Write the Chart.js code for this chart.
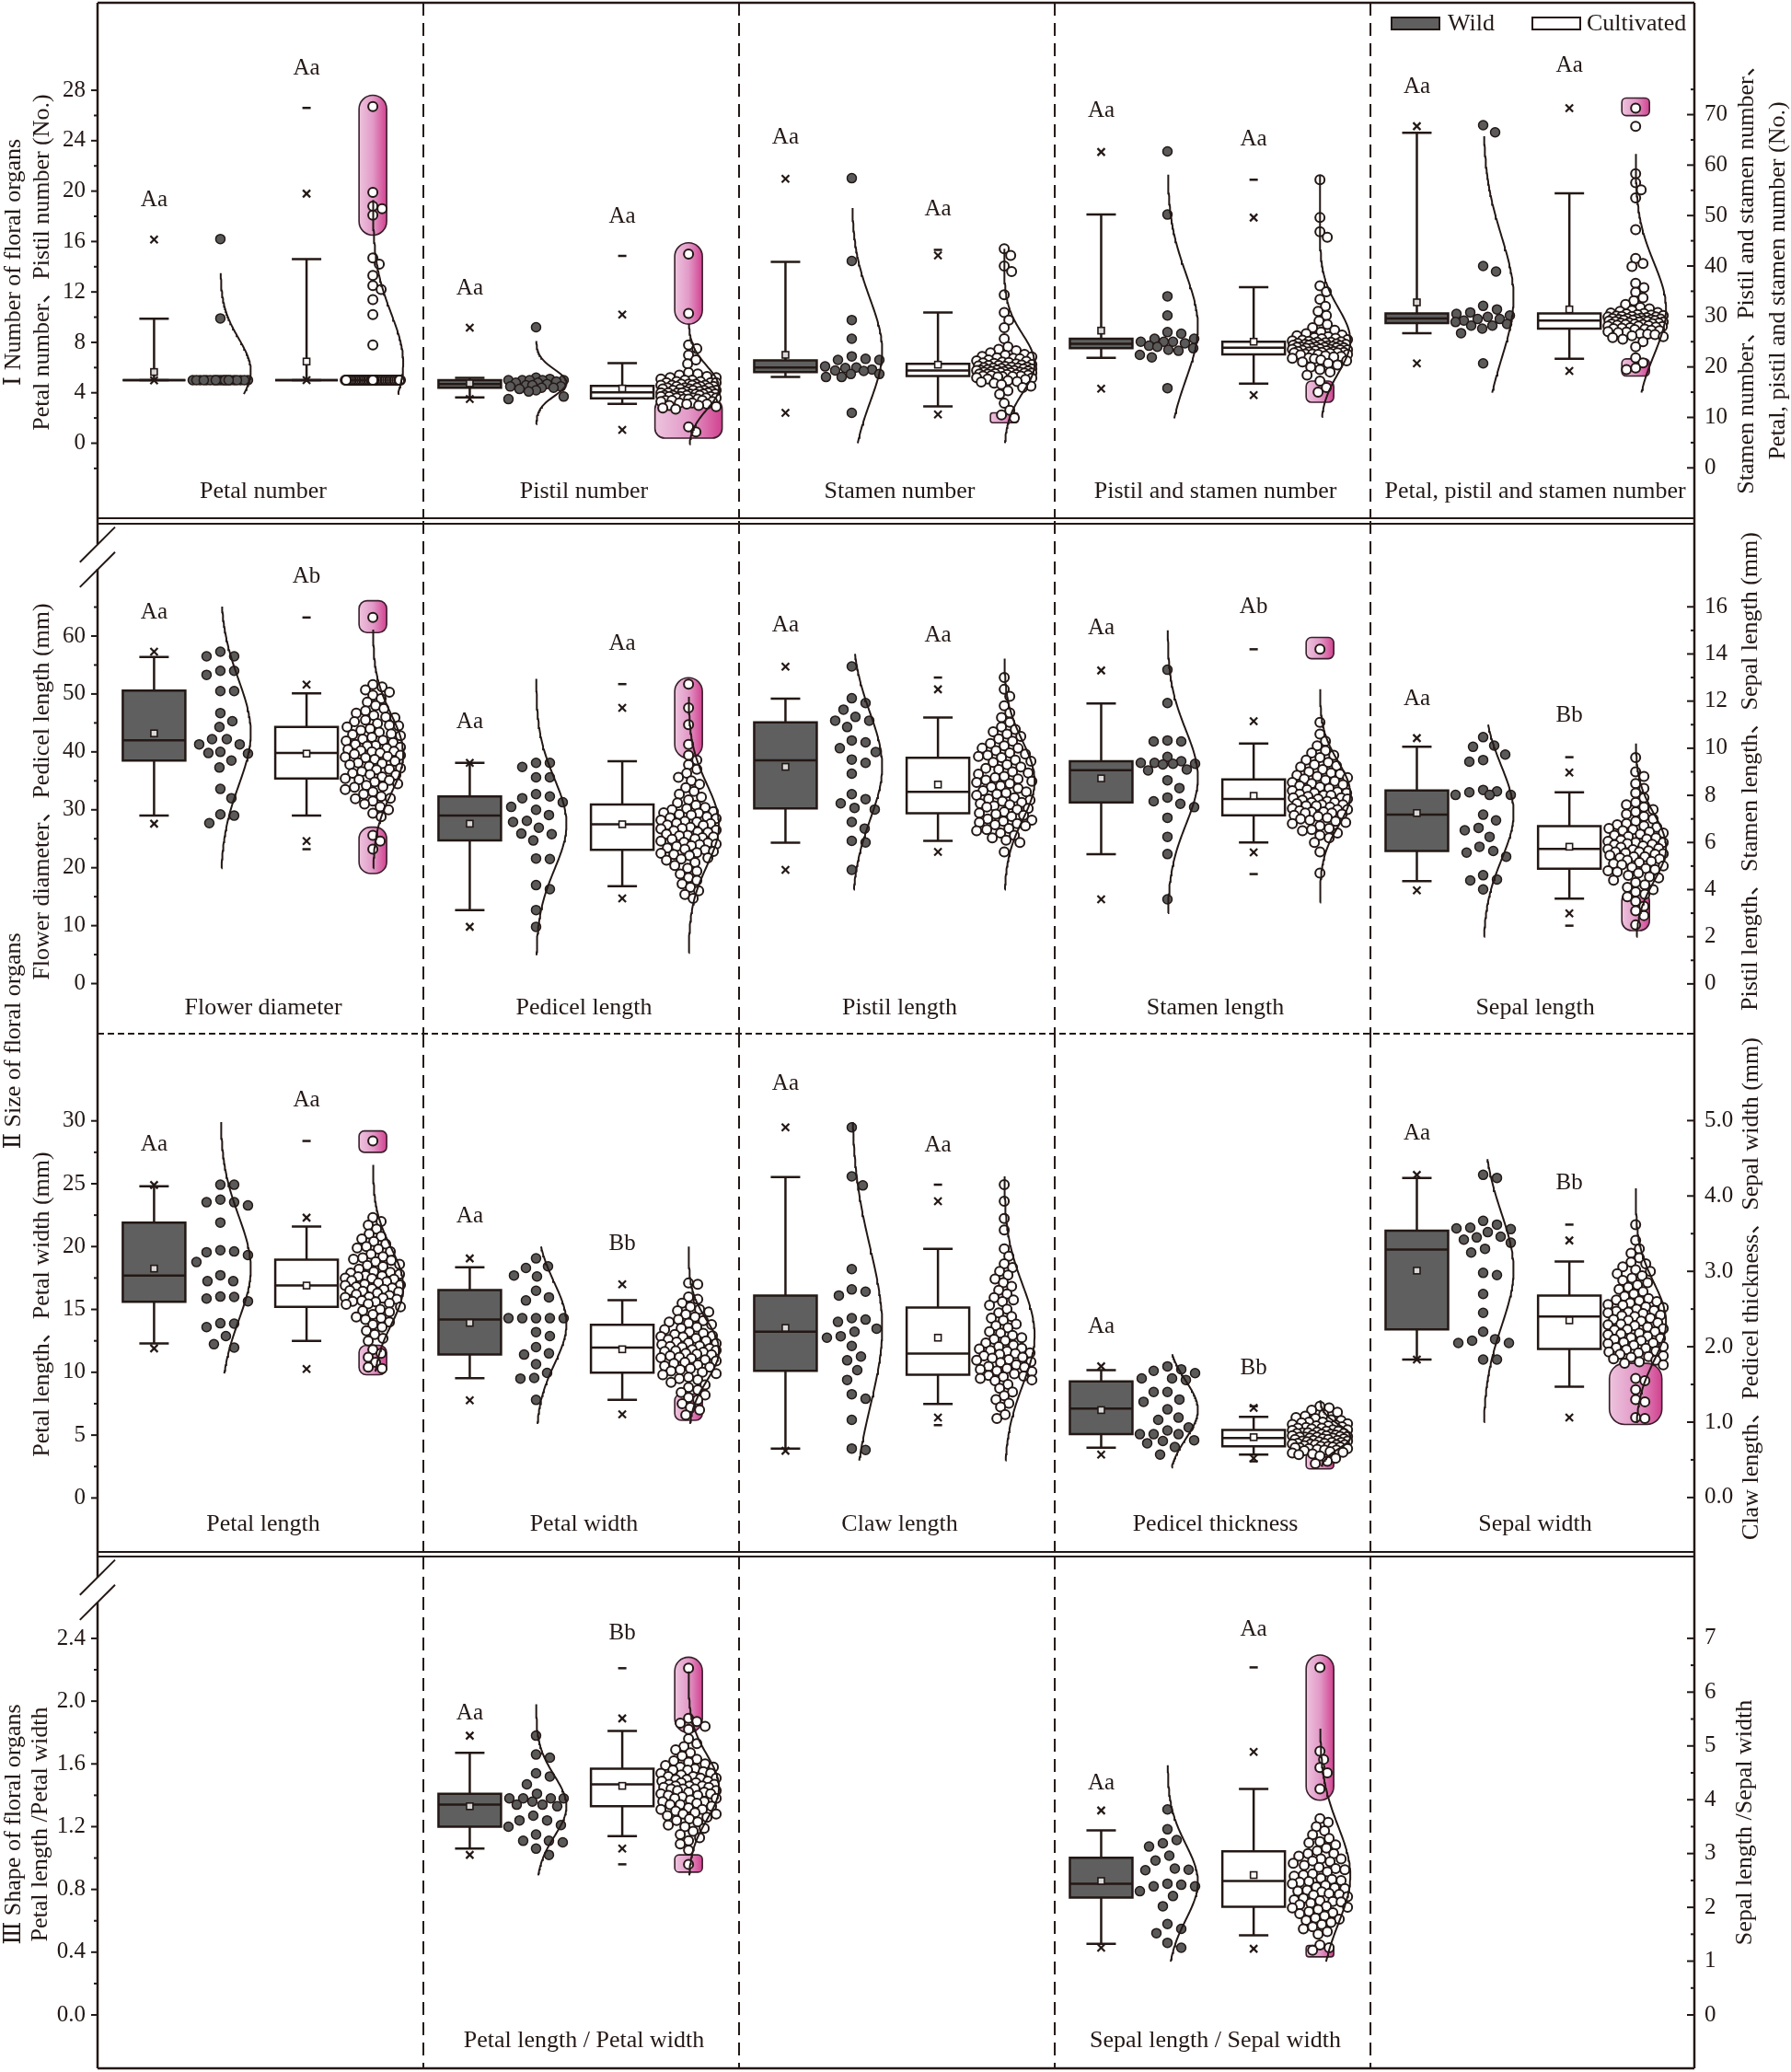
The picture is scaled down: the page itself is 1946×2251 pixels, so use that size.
<!DOCTYPE html>
<html>
<head>
<meta charset="utf-8">
<script src="https://cdn.jsdelivr.net/npm/chart.js@4.4.1/dist/chart.umd.min.js"></script>
<style>
html, body { margin: 0; padding: 0; background: #fff; overflow: hidden; }
#wrap { position: relative; width: 1946px; height: 2251px; }
#wrap canvas { position: absolute; left: 0; }
</style>
</head>
<body>
<div id="wrap">
  <canvas id="row0" width="1946" height="566" style="top:0px"></canvas>
  <canvas id="row1" width="1946" height="558" style="top:566px"></canvas>
  <canvas id="row2" width="1946" height="565" style="top:1124px"></canvas>
  <canvas id="row3" width="1946" height="562" style="top:1689px"></canvas>
</div>
<script>
// ---------------- data ----------------
const traits = ['Petal number', 'Pistil number', 'Stamen number', 'Pistil and stamen number', 'Petal, pistil and stamen number',
  'Flower diameter', 'Pedicel length', 'Pistil length', 'Stamen length', 'Sepal length',
  'Petal length', 'Petal width', 'Claw length', 'Pedicel thickness', 'Sepal width',
  'Petal length / Petal width', 'Sepal length / Sepal width'];
const traitRow = [0, 0, 0, 0, 0, 1, 1, 1, 1, 1, 2, 2, 2, 2, 2, 3, 3];
const traitCol = [0, 1, 2, 3, 4, 0, 1, 2, 3, 4, 0, 1, 2, 3, 4, 1, 3];
const traitAxis = ['L', 'L', 'R', 'R', 'R', 'L', 'L', 'R', 'R', 'R', 'L', 'L', 'R', 'R', 'R', 'L', 'R'];

// individual observations, wild
const petalNumberWild = [16.2, 9.9, 5, 5, 5, 5, 5, 5, 5, 5, 5, 5, 5, 5, 5, 5, 5, 5, 5, 5, 5, 5];
const pistilNumberWild = [9.2, 5.2, 5.1, 5.0, 5.0, 5.0, 5.0, 5.0, 4.9, 4.8, 4.8, 4.7, 4.6, 4.6, 4.5, 4.5, 4.4, 4.4, 4.3, 4.2, 4.1, 3.7, 3.5];
const stamenNumberWild = [57.4, 41.0, 29.3, 25.6, 22.1, 21.6, 21.4, 21.4, 20.1, 19.9, 19.8, 19.5, 19.3, 19.2, 18.6, 18.6, 18.0, 18.0, 10.9];
const pistilStamenWild = [62.7, 50.2, 34.0, 30.2, 26.9, 26.6, 25.6, 25.6, 25.0, 25.0, 25.0, 24.7, 24.2, 24.0, 23.7, 23.4, 23.2, 22.4, 21.9, 15.8];
const allOrgansWild = [67.9, 66.5, 40.0, 38.9, 32.1, 31.4, 30.8, 30.5, 30.2, 29.9, 29.5, 29.5, 29.2, 28.9, 28.5, 28.2, 28.2, 27.6, 26.7, 20.7];
const flowerDiamWild = [57.3, 56.5, 56.5, 54.0, 54.0, 53.3, 50.5, 50.5, 46.7, 45.3, 44.3, 42.2, 42.2, 41.3, 41.3, 40.0, 39.8, 39.7, 38.5, 37.3, 33.6, 32.0, 29.2, 29.0, 27.7];
const pedicelLenWild = [38.1, 38.1, 37.4, 35.6, 35.6, 32.7, 32.3, 32.0, 31.3, 30.5, 30.0, 29.1, 28.1, 27.9, 26.9, 25.9, 25.8, 24.7, 21.5, 21.6, 17.0, 16.3, 12.7, 9.8];
const pistilLenWild = [13.47, 12.12, 11.92, 11.64, 11.33, 11.17, 11.17, 10.9, 10.33, 10.25, 10.0, 9.84, 9.52, 9.38, 8.92, 8.05, 7.84, 7.66, 7.47, 7.4, 6.87, 6.59, 6.07, 6.0, 4.84];
const stamenLenWild = [13.33, 11.92, 10.33, 10.29, 10.29, 9.63, 9.45, 9.38, 9.38, 9.34, 9.34, 9.31, 9.1, 9.06, 8.64, 8.31, 7.91, 7.75, 7.64, 7.5, 7.05, 6.24, 5.51, 3.59];
const sepalLenWild = [10.47, 10.11, 10.06, 9.73, 9.5, 9.43, 8.23, 8.17, 8.13, 8.02, 8.02, 8.02, 7.18, 6.94, 6.62, 6.52, 6.24, 5.82, 5.64, 5.57, 5.4, 4.61, 4.43, 4.39, 4.01];
const petalLenWild = [24.92, 24.92, 23.74, 23.53, 23.53, 23.27, 21.91, 19.71, 19.61, 19.55, 19.32, 18.77, 17.72, 17.25, 17.25, 16.02, 15.99, 15.86, 15.65, 13.9, 13.87, 13.59, 12.88, 12.23, 11.96];
const petalWidWild = [19.06, 18.43, 18.3, 17.7, 17.62, 16.49, 15.96, 15.71, 14.3, 14.3, 14.3, 14.3, 14.3, 13.2, 12.88, 12.0, 11.5, 11.41, 10.65, 9.95, 9.55, 9.5, 7.8];
const clawLenWild = [4.91, 4.26, 4.14, 3.03, 2.76, 2.73, 2.68, 2.38, 2.36, 2.33, 2.24, 2.2, 2.14, 2.12, 2.01, 1.87, 1.82, 1.69, 1.56, 1.37, 1.31, 1.03, 0.65, 0.63];
const pedicelThWild = [1.74, 1.7, 1.68, 1.65, 1.58, 1.58, 1.56, 1.4, 1.4, 1.3, 1.27, 1.17, 1.06, 1.03, 0.93, 0.89, 0.84, 0.84, 0.84, 0.76, 0.75, 0.72, 0.67, 0.57];
const sepalWidWild = [4.28, 4.24, 3.67, 3.62, 3.58, 3.57, 3.56, 3.52, 3.46, 3.45, 3.42, 3.38, 3.3, 3.25, 2.98, 2.95, 2.7, 2.45, 2.2, 2.1, 2.08, 2.05, 2.05, 1.83, 1.83];
const petalRatioWild = [1.78, 1.66, 1.64, 1.54, 1.52, 1.47, 1.41, 1.38, 1.38, 1.38, 1.38, 1.36, 1.34, 1.34, 1.33, 1.27, 1.24, 1.24, 1.21, 1.2, 1.15, 1.11, 1.11, 1.1, 1.06, 1.02];
const sepalRatioWild = [3.82, 3.45, 3.25, 3.19, 3.13, 2.96, 2.87, 2.72, 2.7, 2.69, 2.44, 2.42, 2.39, 2.39, 2.3, 2.21, 2.02, 1.69, 1.6, 1.52, 1.34, 1.25];

// individual observations, cultivated
const petalNumberCult = [26.7, 19.9, 18.8, 18.6, 18.1, 14.7, 14.2, 13.3, 12.5, 12.2, 11.4, 10.2, 7.8,
  5, 5, 5, 5, 5, 5, 5, 5, 5, 5, 5, 5, 5, 5, 5, 5, 5,
  5, 5, 5, 5, 5, 5, 5, 5, 5, 5, 5, 5, 5, 5, 5, 5, 5,
  5, 5, 5, 5, 5, 5, 5, 5, 5, 5, 5, 5, 5, 5, 5, 5, 5,
  5, 5, 5, 5, 5, 5, 5, 5, 5, 5, 5, 5, 5, 5, 5, 5, 5,
  5, 5, 5, 5, 5, 5, 5, 5, 5, 5, 5, 5, 5, 5, 5, 5, 5];
const pistilNumberCult = [15.0, 10.3, 7.8, 7.5, 7.0, 6.6, 6.3, 5.6, 5.5, 5.4, 5.3, 5.2, 5.2, 5.1, 5.0, 5.0, 4.9, 4.9, 4.8, 4.8, 4.8, 4.7, 4.7, 4.7, 4.6, 4.6, 4.6, 4.6, 4.5, 4.5, 4.5, 4.4, 4.4, 4.4, 4.4, 4.3, 4.3, 4.3, 4.2, 4.2, 4.2, 4.2, 4.1, 4.1, 4.1, 4.0, 4.0, 4.0, 4.0, 4.0, 3.9, 3.9, 3.9, 3.9, 3.8, 3.8, 3.8, 3.8, 3.7, 3.7, 3.7, 3.7, 3.6, 3.6, 3.6, 3.6, 3.5, 3.5, 3.5, 3.4, 3.4, 3.4, 3.3, 3.3, 3.2, 3.2, 3.1, 3.1, 3.0, 3.0, 2.9, 2.8, 2.7, 1.3, 0.9];
const stamenNumberCult = [43.4, 42.1, 40.0, 38.9, 34.3, 30.8, 29.3, 27.8, 25.6, 24.0, 23.5, 23.2, 22.8, 22.5, 22.3, 22.1, 22.0, 21.8, 21.7, 21.6, 21.4, 21.2, 21.1, 21.0, 20.9, 20.8, 20.7, 20.6, 20.5, 20.4, 20.3, 20.3, 20.2, 20.1, 20.0, 20.0, 19.9, 19.8, 19.8, 19.7, 19.6, 19.6, 19.5, 19.5, 19.4, 19.4, 19.3, 19.3, 19.2, 19.1, 19.1, 19.0, 19.0, 18.9, 18.9, 18.8, 18.8, 18.7, 18.6, 18.6, 18.5, 18.5, 18.4, 18.3, 18.2, 18.2, 18.1, 18.1, 18.0, 17.9, 17.8, 17.6, 17.5, 17.3, 17.1, 17.0, 16.8, 16.5, 16.2, 15.9, 15.3, 14.6, 12.8, 11.4, 10.5, 9.9];
const pistilStamenCult = [57.1, 49.6, 46.8, 45.7, 36.1, 34.9, 33.4, 32.0, 31.0, 30.2, 29.1, 28.4, 27.8, 27.3, 26.9, 26.6, 26.3, 26.2, 26.0, 25.8, 25.7, 25.6, 25.4, 25.3, 25.2, 25.1, 25.0, 24.9, 24.9, 24.8, 24.7, 24.6, 24.6, 24.5, 24.5, 24.4, 24.3, 24.3, 24.2, 24.2, 24.1, 24.0, 24.0, 23.9, 23.9, 23.8, 23.8, 23.7, 23.7, 23.6, 23.5, 23.5, 23.4, 23.4, 23.3, 23.2, 23.2, 23.1, 23.1, 23.0, 22.9, 22.9, 22.8, 22.8, 22.7, 22.6, 22.6, 22.5, 22.5, 22.4, 22.2, 22.1, 22.0, 21.8, 21.7, 21.6, 21.4, 21.2, 21.0, 20.7, 20.4, 20.0, 19.5, 19.0, 18.4, 17.2, 15.9, 15.0];
const allOrgansCult = [71.3, 67.7, 58.3, 56.5, 55.1, 53.5, 47.2, 41.5, 40.5, 39.9, 36.6, 35.7, 34.8, 33.7, 33.1, 32.4, 31.8, 31.5, 31.2, 31.0, 30.8, 30.7, 30.6, 30.5, 30.4, 30.3, 30.2, 30.1, 30.0, 30.0, 29.9, 29.9, 29.8, 29.7, 29.6, 29.6, 29.5, 29.5, 29.4, 29.4, 29.3, 29.3, 29.2, 29.2, 29.1, 29.0, 29.0, 28.9, 28.9, 28.8, 28.7, 28.7, 28.6, 28.5, 28.5, 28.4, 28.4, 28.3, 28.2, 28.1, 28.1, 28.0, 27.9, 27.8, 27.7, 27.6, 27.5, 27.4, 27.3, 27.2, 27.0, 26.9, 26.8, 26.6, 26.5, 26.4, 26.2, 26.0, 25.8, 25.5, 25.0, 24.0, 21.8, 20.8, 19.8, 19.5];
const flowerDiamCult = [63.2, 51.6, 51.2, 50.7, 50.3, 49.8, 49.2, 48.6, 48.0, 47.5, 47.1, 46.7, 46.3, 46.0, 45.9, 45.5, 45.2, 44.9, 44.6, 44.5, 44.3, 44.0, 43.7, 43.4, 43.1, 43.0, 42.8, 42.5, 42.2, 42.0, 41.9, 41.6, 41.3, 41.1, 41.0, 40.8, 40.6, 40.4, 40.2, 40.1, 40.0, 39.8, 39.6, 39.4, 39.2, 39.1, 39.0, 38.7, 38.4, 38.1, 38.0, 37.8, 37.5, 37.2, 37.0, 36.9, 36.6, 36.3, 36.1, 36.0, 35.7, 35.4, 35.2, 35.1, 34.8, 34.5, 34.2, 34.0, 33.9, 33.5, 33.1, 32.7, 32.3, 32.0, 31.9, 31.5, 31.0, 30.5, 30.0, 29.4, 28.8, 25.6, 24.6, 23.2];
const pedicelLenCult = [51.7, 47.6, 44.7, 41.3, 39.4, 38.6, 37.8, 37.0, 36.3, 35.6, 35.0, 34.4, 33.8, 33.2, 32.7, 32.2, 31.7, 31.2, 30.8, 30.4, 30.2, 30.0, 29.7, 29.5, 29.4, 29.2, 29.1, 28.8, 28.6, 28.5, 28.2, 28.0, 27.9, 27.7, 27.6, 27.4, 27.3, 27.0, 26.8, 26.7, 26.5, 26.4, 26.2, 26.1, 25.8, 25.6, 25.5, 25.3, 25.2, 25.0, 24.9, 24.6, 24.4, 24.3, 24.1, 24.0, 23.8, 23.7, 23.4, 23.2, 23.1, 22.8, 22.6, 22.5, 22.3, 22.1, 21.7, 21.5, 21.3, 20.9, 20.4, 19.9, 19.4, 18.9, 18.3, 17.8, 17.2, 16.6, 16.0, 15.4, 14.7];
const pistilLenCult = [13.0, 12.5, 12.2, 11.8, 11.5, 11.3, 11.1, 10.9, 10.8, 10.7, 10.6, 10.5, 10.4, 10.3, 10.2, 10.1, 10.0, 10.0, 9.9, 9.8, 9.75, 9.7, 9.65, 9.6, 9.5, 9.45, 9.4, 9.3, 9.2, 9.15, 9.1, 9.0, 8.95, 8.9, 8.8, 8.75, 8.7, 8.65, 8.6, 8.55, 8.5, 8.4, 8.35, 8.3, 8.2, 8.15, 8.1, 8.05, 8.0, 7.9, 7.85, 7.8, 7.75, 7.7, 7.65, 7.6, 7.55, 7.5, 7.45, 7.4, 7.3, 7.25, 7.2, 7.15, 7.1, 7.0, 6.95, 6.9, 6.85, 6.8, 6.75, 6.7, 6.6, 6.55, 6.5, 6.4, 6.3, 6.2, 6.1, 6.0, 5.6];
const stamenLenCult = [14.2, 11.1, 10.6, 10.3, 10.1, 9.9, 9.8, 9.7, 9.6, 9.5, 9.4, 9.3, 9.25, 9.2, 9.1, 9.0, 8.95, 8.9, 8.85, 8.8, 8.75, 8.7, 8.65, 8.6, 8.55, 8.5, 8.45, 8.4, 8.35, 8.3, 8.25, 8.2, 8.15, 8.1, 8.1, 8.05, 8.0, 8.0, 7.95, 7.9, 7.9, 7.85, 7.85, 7.8, 7.75, 7.7, 7.7, 7.65, 7.6, 7.6, 7.55, 7.55, 7.5, 7.45, 7.4, 7.4, 7.35, 7.3, 7.3, 7.25, 7.25, 7.2, 7.15, 7.1, 7.05, 7.0, 6.95, 6.9, 6.85, 6.8, 6.7, 6.6, 6.55, 6.5, 6.4, 6.3, 6.2, 6.0, 5.6, 4.7];
const sepalLenCult = [9.6, 9.0, 8.8, 8.5, 8.3, 8.1, 7.9, 7.7, 7.6, 7.5, 7.4, 7.3, 7.2, 7.1, 7.0, 6.9, 6.8, 6.75, 6.7, 6.65, 6.6, 6.55, 6.5, 6.45, 6.4, 6.35, 6.3, 6.25, 6.2, 6.15, 6.1, 6.05, 6.0, 6.0, 5.95, 5.92, 5.9, 5.85, 5.8, 5.75, 5.72, 5.7, 5.65, 5.6, 5.6, 5.55, 5.52, 5.5, 5.45, 5.4, 5.4, 5.35, 5.3, 5.25, 5.2, 5.15, 5.1, 5.05, 5.0, 4.95, 4.9, 4.85, 4.8, 4.75, 4.7, 4.6, 4.55, 4.5, 4.4, 4.3, 4.2, 4.1, 4.0, 3.9, 3.8, 3.7, 3.5, 3.3, 3.1, 2.9, 2.5];
const petalLenCult = [28.4, 22.3, 22.0, 21.7, 21.4, 21.0, 20.8, 20.6, 20.4, 20.2, 20.0, 19.9, 19.8, 19.6, 19.4, 19.2, 19.1, 19.0, 18.9, 18.8, 18.6, 18.5, 18.4, 18.2, 18.0, 17.95, 17.9, 17.8, 17.7, 17.65, 17.6, 17.5, 17.45, 17.4, 17.3, 17.2, 17.1, 17.0, 16.95, 16.9, 16.8, 16.7, 16.65, 16.6, 16.5, 16.45, 16.4, 16.3, 16.2, 16.1, 16.0, 15.95, 15.9, 15.8, 15.7, 15.65, 15.6, 15.5, 15.45, 15.4, 15.2, 15.0, 14.9, 14.8, 14.6, 14.4, 14.3, 14.2, 14.0, 13.8, 13.6, 13.3, 13.0, 12.7, 12.5, 11.8, 11.5, 11.2, 10.8, 10.4, 10.3];
const petalWidCult = [17.1, 17.0, 16.0, 15.8, 15.5, 15.2, 15.0, 14.9, 14.8, 14.6, 14.4, 14.2, 14.1, 14.0, 13.9, 13.8, 13.6, 13.5, 13.4, 13.2, 13.1, 13.0, 12.9, 12.85, 12.8, 12.7, 12.6, 12.5, 12.4, 12.35, 12.3, 12.2, 12.1, 12.05, 12.0, 11.9, 11.8, 11.75, 11.7, 11.65, 11.6, 11.5, 11.45, 11.4, 11.3, 11.2, 11.15, 11.1, 11.0, 10.9, 10.8, 10.7, 10.6, 10.5, 10.4, 10.3, 10.2, 10.1, 10.0, 9.9, 9.8, 9.6, 9.5, 9.4, 9.2, 9.0, 8.8, 8.6, 8.4, 8.2, 8.0, 7.8, 7.5, 7.2, 7.0, 6.6];
const clawLenCult = [4.15, 3.93, 3.7, 3.55, 3.3, 3.2, 3.1, 3.05, 3.0, 2.95, 2.9, 2.85, 2.8, 2.75, 2.7, 2.65, 2.62, 2.6, 2.55, 2.5, 2.45, 2.4, 2.38, 2.35, 2.3, 2.28, 2.25, 2.2, 2.18, 2.15, 2.12, 2.1, 2.08, 2.05, 2.02, 2.0, 1.98, 1.97, 1.95, 1.94, 1.92, 1.91, 1.9, 1.88, 1.86, 1.85, 1.83, 1.82, 1.8, 1.79, 1.76, 1.74, 1.73, 1.71, 1.7, 1.68, 1.67, 1.64, 1.62, 1.61, 1.6, 1.58, 1.56, 1.55, 1.5, 1.45, 1.4, 1.35, 1.3, 1.25, 1.2, 1.1, 1.05];
const pedicelThCult = [1.21, 1.19, 1.16, 1.13, 1.1, 1.08, 1.06, 1.05, 1.03, 1.02, 1.0, 1.0, 0.99, 0.98, 0.97, 0.96, 0.95, 0.95, 0.94, 0.93, 0.92, 0.92, 0.91, 0.9, 0.9, 0.89, 0.88, 0.88, 0.87, 0.86, 0.86, 0.85, 0.85, 0.84, 0.84, 0.83, 0.83, 0.82, 0.82, 0.81, 0.81, 0.8, 0.8, 0.8, 0.79, 0.79, 0.78, 0.78, 0.77, 0.77, 0.76, 0.76, 0.75, 0.75, 0.74, 0.74, 0.73, 0.73, 0.72, 0.72, 0.71, 0.71, 0.7, 0.7, 0.7, 0.69, 0.68, 0.68, 0.67, 0.67, 0.66, 0.66, 0.65, 0.65, 0.64, 0.63, 0.63, 0.62, 0.61, 0.6, 0.59, 0.58, 0.57, 0.55, 0.52, 0.48, 0.45];
const sepalWidCult = [3.62, 3.41, 3.3, 3.24, 3.18, 3.12, 3.1, 3.06, 3.02, 3.0, 2.97, 2.94, 2.91, 2.88, 2.85, 2.82, 2.79, 2.76, 2.73, 2.7, 2.67, 2.64, 2.62, 2.61, 2.6, 2.58, 2.56, 2.55, 2.53, 2.52, 2.5, 2.48, 2.47, 2.46, 2.45, 2.44, 2.42, 2.41, 2.4, 2.38, 2.36, 2.35, 2.34, 2.32, 2.3, 2.29, 2.28, 2.26, 2.24, 2.23, 2.22, 2.2, 2.18, 2.17, 2.16, 2.14, 2.12, 2.11, 2.1, 2.08, 2.06, 2.05, 2.04, 2.02, 2.0, 1.99, 1.98, 1.96, 1.94, 1.93, 1.92, 1.9, 1.88, 1.87, 1.86, 1.84, 1.82, 1.8, 1.78, 1.76, 1.58, 1.55, 1.43, 1.3, 1.27, 1.06, 1.05];
const petalRatioCult = [2.21, 1.89, 1.87, 1.86, 1.84, 1.82, 1.76, 1.73, 1.71, 1.69, 1.67, 1.65, 1.63, 1.62, 1.61, 1.6, 1.59, 1.58, 1.58, 1.57, 1.56, 1.56, 1.55, 1.54, 1.54, 1.53, 1.52, 1.52, 1.51, 1.51, 1.5, 1.5, 1.49, 1.49, 1.48, 1.48, 1.47, 1.47, 1.46, 1.46, 1.46, 1.45, 1.45, 1.44, 1.44, 1.44, 1.43, 1.43, 1.42, 1.42, 1.41, 1.41, 1.4, 1.4, 1.39, 1.38, 1.38, 1.37, 1.36, 1.36, 1.35, 1.34, 1.34, 1.33, 1.32, 1.31, 1.31, 1.3, 1.29, 1.28, 1.28, 1.27, 1.26, 1.25, 1.24, 1.23, 1.21, 1.2, 1.19, 1.17, 1.15, 1.13, 1.11, 1.09, 1.05, 0.96];
const sepalRatioCult = [6.46, 4.9, 4.75, 4.6, 4.5, 4.2, 3.65, 3.58, 3.5, 3.42, 3.35, 3.28, 3.22, 3.2, 3.16, 3.1, 3.05, 3.0, 3.0, 2.95, 2.9, 2.9, 2.86, 2.85, 2.82, 2.78, 2.74, 2.72, 2.7, 2.66, 2.62, 2.6, 2.58, 2.54, 2.52, 2.5, 2.48, 2.47, 2.44, 2.41, 2.38, 2.36, 2.35, 2.32, 2.3, 2.29, 2.26, 2.24, 2.23, 2.2, 2.17, 2.14, 2.12, 2.11, 2.1, 2.08, 2.05, 2.02, 2.0, 1.99, 1.96, 1.92, 1.9, 1.88, 1.84, 1.8, 1.78, 1.76, 1.72, 1.68, 1.64, 1.6, 1.55, 1.5, 1.3, 1.25, 1.2];

const wildDots = [petalNumberWild, pistilNumberWild, stamenNumberWild, pistilStamenWild, allOrgansWild,
  flowerDiamWild, pedicelLenWild, pistilLenWild, stamenLenWild, sepalLenWild,
  petalLenWild, petalWidWild, clawLenWild, pedicelThWild, sepalWidWild, petalRatioWild, sepalRatioWild];
const cultDots = [petalNumberCult, pistilNumberCult, stamenNumberCult, pistilStamenCult, allOrgansCult,
  flowerDiamCult, pedicelLenCult, pistilLenCult, stamenLenCult, sepalLenCult,
  petalLenCult, petalWidCult, clawLenCult, pedicelThCult, sepalWidCult, petalRatioCult, sepalRatioCult];

// box statistics [lower whisker, Q1, median, Q3, upper whisker]
const wildBox = [[5, 5, 5, 5, 9.88], [3.64, 4.4, 4.7, 5.0, 5.19], [18.0, 19.0, 19.9, 21.3, 40.8], [21.8, 23.7, 24.6, 25.6, 50.2], [26.7, 28.7, 29.6, 30.6, 66.4],
  [29.0, 38.5, 42.0, 50.6, 56.4], [12.7, 24.7, 29.0, 32.3, 38.1], [5.99, 7.45, 9.49, 11.1, 12.1], [5.5, 7.7, 9.07, 9.45, 11.9], [4.36, 5.64, 7.18, 8.21, 10.06],
  [12.3, 15.6, 17.7, 21.9, 24.8], [9.53, 11.41, 14.19, 16.54, 18.35], [0.65, 1.68, 2.2, 2.68, 4.25], [0.66, 0.84, 1.18, 1.54, 1.69], [1.83, 2.23, 3.29, 3.54, 4.24],
  [1.06, 1.2, 1.34, 1.41, 1.67], [1.32, 2.18, 2.44, 2.92, 3.43]];
const cultBox = [[5, 5, 5, 5, 14.6], [3.12, 3.56, 4.03, 4.54, 6.35], [12.2, 18.2, 19.3, 20.6, 30.8], [16.7, 22.5, 23.8, 25.0, 35.8], [21.6, 27.6, 29.2, 30.6, 54.4],
  [29.0, 35.4, 39.8, 44.3, 50.1], [16.8, 23.1, 27.5, 30.9, 38.4], [6.07, 7.24, 8.15, 9.59, 11.3], [6.0, 7.15, 7.85, 8.68, 10.2], [3.62, 4.89, 5.73, 6.69, 8.13],
  [12.5, 15.2, 16.9, 18.95, 21.6], [7.8, 9.97, 11.96, 13.77, 15.73], [1.24, 1.63, 1.91, 2.52, 3.3], [0.57, 0.68, 0.79, 0.895, 1.07], [1.47, 1.97, 2.4, 2.68, 3.13],
  [1.14, 1.33, 1.47, 1.57, 1.81], [1.48, 2.01, 2.49, 3.04, 4.2]];
const wildMean = [5.65, 4.75, 22.4, 27.2, 32.8, 43.2, 27.6, 9.21, 8.72, 7.25, 18.25, 13.93, 2.25, 1.16, 3.01, 1.33, 2.49];
const cultMean = [6.48, 4.34, 20.45, 25.0, 31.4, 39.7, 27.5, 8.46, 7.98, 5.82, 16.9, 11.83, 2.12, 0.8, 2.35, 1.46, 2.6];
// 1% / 99% marks (x) and min / max marks (-)
const wildCross = [[16.15, 4.98], [9.16, 3.5], [57.3, 10.9], [62.6, 15.7], [67.7, 20.7], [57.3, 27.6], [38.1, 9.8], [13.46, 4.84], [13.3, 3.59], [10.43, 3.97],
  [24.9, 11.9], [19.06, 7.77], [4.91, 0.62], [1.74, 0.57], [4.28, 1.83], [1.78, 1.02], [3.8, 1.25]];
const cultCross = [[19.8, 5.0], [10.2, 1.06], [42.1, 10.6], [49.6, 14.4], [71.3, 19.2], [51.6, 24.6], [47.6, 14.7], [12.5, 5.6], [11.15, 5.58], [8.97, 2.99],
  [22.3, 10.26], [17.0, 6.65], [3.93, 1.06], [1.19, 0.52], [3.41, 1.06], [1.89, 1.06], [4.89, 1.23]];
const wildDash = [[], [], [], [], [], [], [], [], [], [], [], [], [], [], [], [], []];
const cultDash = [[26.6], [14.86], [43.2], [57.1], [], [63.2, 23.2], [51.7], [13.0], [14.2, 4.66], [9.62, 2.47],
  [28.4], [], [4.15, 0.96], [1.21, 0.48], [3.62], [2.21, 0.96], [6.46]];
// cultivated values outside the wild range [low, high, band kind]
const cultPink = [[[16.5, 27.6, 'n']], [[9.45, 15.9, 'n'], [0.4, 3.5, 'w']], [[8.95, 10.9, 'n']], [[13.0, 17.2, 'n']], [[69.8, 73.3, 'n'], [18.2, 21.6, 'n']],
  [[60.6, 66.1, 'n'], [19.0, 27.0, 'n']], [[38.9, 52.8, 'n']], [], [[13.8, 14.7, 'n']], [[2.26, 3.94, 'n']],
  [[27.5, 29.2, 'n'], [9.8, 12.15, 'n']], [[6.18, 8.27, 'n']], [], [[0.38, 0.58, 'n']], [[0.97, 1.78, 'm']],
  [[1.8, 2.28, 'n'], [0.91, 1.02, 'n']], [[3.99, 6.69, 'n'], [1.08, 1.29, 'n']]];
// extent of the distribution curves
const wildCurve = [[3.9, 13.5], [1.5, 8.1], [4.9, 51.5], [9.8, 58.1], [14.9, 65.7], [19.9, 65.1], [4.9, 52.6], [4.0, 14.0], [3.0, 15.0], [2.0, 11.0],
  [9.9, 29.9], [5.9, 20.0], [0.49, 4.98], [0.4, 1.9], [1.0, 4.49], [0.89, 1.98], [0.99, 4.64]];
const cultCurve = [[3.9, 19.3], [-0.1, 9.45], [4.9, 43.4], [10.1, 58.0], [14.9, 62.2], [19.9, 61.1], [5.3, 49.5], [4.0, 13.8], [3.45, 12.5], [2.0, 10.2],
  [10.05, 26.5], [5.9, 20.0], [0.49, 4.26], [0.41, 1.29], [1.0, 4.1], [0.89, 2.19], [0.99, 5.32]];
// significance letters and the value they sit at
const wildLetter = ['Aa', 'Aa', 'Aa', 'Aa', 'Aa', 'Aa', 'Aa', 'Aa', 'Aa', 'Aa', 'Aa', 'Aa', 'Aa', 'Aa', 'Aa', 'Aa', 'Aa'];
const cultLetter = ['Aa', 'Aa', 'Aa', 'Aa', 'Aa', 'Ab', 'Aa', 'Aa', 'Ab', 'Bb', 'Aa', 'Bb', 'Aa', 'Bb', 'Bb', 'Bb', 'Aa'];
const wildLetterY = [19.25, 12.3, 65.4, 70.8, 75.4, 64.1, 45.1, 15.2, 15.1, 12.1, 28.1, 22.4, 5.49, 2.26, 4.83, 1.92, 4.31];
const cultLetterY = [29.75, 17.96, 51.2, 65.1, 79.6, 70.2, 58.6, 14.8, 16.0, 11.4, 31.6, 20.2, 4.67, 1.72, 4.17, 2.43, 7.16];

// axis tick labels per row
const leftTicks = [[0, 4, 8, 12, 16, 20, 24, 28], [0, 10, 20, 30, 40, 50, 60], [0, 5, 10, 15, 20, 25, 30], [0, 0.4, 0.8, 1.2, 1.6, 2.0, 2.4]];
const rightTicks = [[0, 10, 20, 30, 40, 50, 60, 70], [0, 2, 4, 6, 8, 10, 12, 14, 16], [0, 1, 2, 3, 4, 5], [0, 1, 2, 3, 4, 5, 6, 7]];
const leftDec = [0, 0, 0, 1];
const rightDec = [0, 0, 1, 0];

// ---------------- layout / style ----------------
const INK = '#231815';
const FONT = '"Liberation Serif", "DejaVu Serif", "Noto Sans CJK SC", serif';
const WILD_FILL = '#5f5f5f';
const WILD_DOT = '#5a5a5a';
const X_MIN = -0.032, X_MAX = 5.026;
const WILD_OFF = 0.147, CULT_OFF = 0.63, DOT_SHIFT = 0.21;
const CURVE_PEAK = 33;
const rowTop = [0, 566, 1124, 1689];
const leftRange = [[-5.66, 34.65], [-7.7, 78.75], [-4.0, 36.35], [-0.3227, 2.8925]];
const rightRange = [[-9.25, 91.44], [-1.88, 19.37], [-0.673, 6.055], [-0.941, 8.435]];
const leftMinor = [[-2, 28, 2], [0, 65, 5], [0, 30, 2.5], [0, 2.4, 0.2]];
const rightMinor = [[0, 75, 5], [0, 16, 1], [0, 5, 0.5], [0, 7, 0.5]];
const pinkWidth = { n: 30, w: 73, m: 57 };
const leftTitles = [
  [['Ⅰ Number of floral organs', 15, 285], ['Petal number、Pistil number (No.)', 46, 285]],
  [['Ⅱ Size of floral organs', 15, 1131], ['Flower diameter、Pedicel length (mm)', 46, 860]],
  [['Ⅱ Size of floral organs', 15, 1131], ['Petal length、Petal width (mm)', 46, 1417]],
  [['Ⅲ Shape of floral organs', 15, 1982], ['Petal length /Petal width', 44, 1982]]
];
const rightTitles = [
  [['Stamen number、Pistil and stamen number、', 1898, 297], ['Petal, pistil and stamen number (No.)', 1932, 305]],
  [['Pistil length、Stamen length、Sepal length (mm)', 1902, 838]],
  [['Claw length、Pedicel thickness、Sepal width (mm)', 1903, 1400]],
  [['Sepal length /Sepal width', 1896, 1980]]
];

Chart.defaults.font.family = FONT;
Chart.defaults.color = INK;

function seg(ctx, x1, y1, x2, y2) {
  ctx.beginPath(); ctx.moveTo(x1, y1); ctx.lineTo(x2, y2); ctx.stroke();
}

function vtext(ctx, str, x, y) {
  ctx.save();
  ctx.translate(x, y);
  ctx.rotate(-Math.PI / 2);
  ctx.textAlign = 'center';
  ctx.textBaseline = 'middle';
  ctx.fillText(str, 0, 0);
  ctx.restore();
}

function roundBox(ctx, x, y, w, h, rad) {
  const r = Math.min(rad, w / 2, h / 2);
  ctx.beginPath();
  ctx.moveTo(x + r, y);
  ctx.lineTo(x + w - r, y);
  ctx.arcTo(x + w, y, x + w, y + r, r);
  ctx.lineTo(x + w, y + h - r);
  ctx.arcTo(x + w, y + h, x + w - r, y + h, r);
  ctx.lineTo(x + r, y + h);
  ctx.arcTo(x, y + h, x, y + h - r, r);
  ctx.lineTo(x, y + r);
  ctx.arcTo(x, y, x + r, y, r);
  ctx.closePath();
}

// beeswarm offsets (pixels) so the dots of one group do not pile up
function swarm(pys, maxHalf, minDist) {
  const idx = pys.map((p, i) => i).sort((a, b) => pys[a] - pys[b]);
  const placed = [];
  const off = pys.map(() => 0);
  idx.forEach(i => {
    const py = pys[i];
    const near = placed.filter(q => Math.abs(q.y - py) < minDist);
    let best = 0, bestScore = -1;
    for (let k = 0; k <= 2 * maxHalf; k++) {
      const o = (k % 2 ? 1 : -1) * Math.ceil(k / 2);
      let dmin = Infinity;
      near.forEach(q => {
        const d = Math.hypot(q.x - o, q.y - py);
        if (d < dmin) dmin = d;
      });
      if (dmin >= minDist) { best = o; break; }
      if (dmin > bestScore) { bestScore = dmin; best = o; }
    }
    off[i] = best;
    placed.push({ x: best, y: py });
  });
  return off;
}

function yScale(side, r) {
  const range = side === 'left' ? leftRange[r] : rightRange[r];
  const ticks = side === 'left' ? leftTicks[r] : rightTicks[r];
  const dec = side === 'left' ? leftDec[r] : rightDec[r];
  return {
    type: 'linear',
    position: side,
    min: range[0],
    max: range[1],
    grid: { display: false, drawTicks: false },
    border: { display: false },
    ticks: {
      autoSkip: false,
      padding: side === 'left' ? 13 : 11,
      font: { size: 25, family: FONT },
      color: INK,
      callback: v => Number(v).toFixed(dec)
    },
    afterBuildTicks: s => { s.ticks = ticks.map(v => ({ value: v })); },
    afterFit: s => {
      s.width = side === 'left' ? 106 : 105;
      s.paddingTop = 0;
      s.paddingBottom = 0;
    }
  };
}

function panelCenter(xs, c) {
  const lo = c === 0 ? X_MIN : c;
  const hi = c === 4 ? X_MAX : c + 1;
  return (xs.getPixelForValue(lo) + xs.getPixelForValue(hi)) / 2;
}

function drawPinks(chart, groups) {
  const ctx = chart.ctx, xs = chart.scales.x;
  ctx.save();
  groups.filter(g => g.kind === 'cult').forEach(g => {
    const ys = chart.scales[g.axis];
    const cx = xs.getPixelForValue(g.dotX);
    cultPink[g.i].forEach(([lo, hi, k]) => {
      const w = pinkWidth[k];
      const y1 = ys.getPixelForValue(hi), y2 = ys.getPixelForValue(lo);
      const grad = ctx.createLinearGradient(cx - w / 2, 0, cx + w / 2, 0);
      grad.addColorStop(0, '#edc3dd');
      grad.addColorStop(0.5, '#e29ac8');
      grad.addColorStop(1, '#d1428f');
      roundBox(ctx, cx - w / 2, y1, w, y2 - y1, Math.min(w / 2, (y2 - y1) / 4));
      ctx.fillStyle = grad;
      ctx.fill();
      ctx.lineWidth = 1.6;
      ctx.strokeStyle = '#3a1f2c';
      ctx.stroke();
    });
  });
  ctx.restore();
}

function drawBoxes(chart, groups, r) {
  const ctx = chart.ctx, xs = chart.scales.x;
  ctx.save();
  ctx.strokeStyle = INK;
  groups.forEach(g => {
    const ys = chart.scales[g.axis];
    const Y = v => ys.getPixelForValue(v);
    const cx = xs.getPixelForValue(g.boxX);
    const wild = g.kind === 'wild';
    const [wl, q1, md, q3, wh] = (wild ? wildBox : cultBox)[g.i];
    ctx.lineWidth = 2.5;
    seg(ctx, cx, Y(wh), cx, Y(q3));
    seg(ctx, cx, Y(q1), cx, Y(wl));
    seg(ctx, cx - 16, Y(wh), cx + 16, Y(wh));
    seg(ctx, cx - 16, Y(wl), cx + 16, Y(wl));
    ctx.fillStyle = wild ? WILD_FILL : '#ffffff';
    ctx.beginPath();
    ctx.rect(cx - 34, Y(q3), 68, Y(q1) - Y(q3));
    ctx.fill();
    ctx.stroke();
    seg(ctx, cx - 34, Y(md), cx + 34, Y(md));
    // mean
    const my = Y((wild ? wildMean : cultMean)[g.i]);
    ctx.lineWidth = 1.6;
    ctx.fillStyle = wild ? '#d8d8d8' : '#ffffff';
    ctx.fillRect(cx - 3.5, my - 3.5, 7, 7);
    ctx.strokeRect(cx - 3.5, my - 3.5, 7, 7);
    // percentile and extreme marks
    ctx.lineWidth = 2.2;
    (wild ? wildCross : cultCross)[g.i].forEach(v => {
      const y = Y(v);
      seg(ctx, cx - 4, y - 4, cx + 4, y + 4);
      seg(ctx, cx - 4, y + 4, cx + 4, y - 4);
    });
    ctx.lineWidth = 2.5;
    (wild ? wildDash : cultDash)[g.i].forEach(v => {
      const y = Y(v);
      seg(ctx, cx - 4.5, y, cx + 4.5, y);
    });
    // letters
    ctx.fillStyle = INK;
    ctx.font = '25px ' + FONT;
    ctx.textAlign = 'center';
    ctx.textBaseline = 'middle';
    ctx.fillText((wild ? wildLetter : cultLetter)[g.i], cx, Y((wild ? wildLetterY : cultLetterY)[g.i]));
  });
  // trait names under each panel
  const labelY = [534, 529, 532, 528][r];
  ctx.font = '26px ' + FONT;
  ctx.textAlign = 'center';
  ctx.textBaseline = 'middle';
  ctx.fillStyle = INK;
  traits.forEach((name, i) => {
    if (traitRow[i] === r) ctx.fillText(name, panelCenter(xs, traitCol[i]) + 3, labelY);
  });
  ctx.restore();
}

function drawTicks(ctx, scale, x0, majors, spec, majorLen) {
  const [a, b, step] = spec;
  const n = Math.round((b - a) / step);
  ctx.lineWidth = 2;
  for (let k = 0; k <= n; k++) {
    const v = Math.round((a + k * step) * 1000) / 1000;
    const isMajor = majors.some(m => Math.abs(m - v) < 1e-6);
    const len = isMajor ? majorLen : 4;
    const y = scale.getPixelForValue(v);
    seg(ctx, x0 - len, y, x0, y);
  }
}

function drawFrame(chart, r) {
  const ctx = chart.ctx, xs = chart.scales.x;
  const H = chart.height;
  const L = chart.chartArea.left, R = chart.chartArea.right;
  ctx.save();
  ctx.strokeStyle = INK;
  ctx.lineCap = 'butt';
  const top = r === 0 ? 3 : (r === 3 ? 2 : 0);
  const bot = r === 0 ? 563 : (r === 3 ? 558 : (r === 2 ? 562 : H));
  // panel dividers
  ctx.lineWidth = 2;
  ctx.setLineDash([14, 8]);
  [1, 2, 3, 4].forEach(c => {
    const x = xs.getPixelForValue(c);
    seg(ctx, x, top, x, bot);
  });
  // horizontal rules
  ctx.setLineDash([]);
  if (r === 0) {
    ctx.lineWidth = 2.5; seg(ctx, L, 3, R, 3);
    ctx.lineWidth = 2; seg(ctx, L, 563, R, 563);
  } else if (r === 1) {
    ctx.lineWidth = 2; seg(ctx, L, 3, R, 3);
    ctx.setLineDash([7, 4]); seg(ctx, L, 557, R, 557); ctx.setLineDash([]);
  } else if (r === 2) {
    ctx.lineWidth = 2; seg(ctx, L, 562, R, 562);
  } else {
    ctx.lineWidth = 2; seg(ctx, L, 2, R, 2);
    ctx.lineWidth = 2.5; seg(ctx, L, 558, R, 558);
  }
  // axes
  ctx.lineWidth = 2.5;
  const yTop = r === 0 ? 3 : 0;
  const yBot = r === 3 ? 558 : H;
  seg(ctx, R, yTop, R, yBot);
  if (r === 1 || r === 3) {
    seg(ctx, L, yTop, L, 25);
    seg(ctx, L, 52, L, yBot);
    ctx.lineWidth = 2;
    const d = r === 1 ? 0 : -1;
    seg(ctx, 125, 6.6 + d, 86.8, 44.7 + d);
    seg(ctx, 125, 33.7 + d, 86.8, 71.9 + d);
  } else {
    seg(ctx, L, yTop, L, yBot);
  }
  drawTicks(ctx, chart.scales.yL, L, leftTicks[r], leftMinor[r], 7);
  drawTicks(ctx, chart.scales.yR, R, rightTicks[r], rightMinor[r], 8);
  // axis titles
  ctx.fillStyle = INK;
  ctx.font = '26px ' + FONT;
  leftTitles[r].forEach(([s, x, gy]) => vtext(ctx, s, x, gy - rowTop[r]));
  rightTitles[r].forEach(([s, x, gy]) => vtext(ctx, s, x, gy - rowTop[r]));
  // legend
  if (r === 0) {
    ctx.lineWidth = 2;
    ctx.fillStyle = WILD_FILL;
    ctx.fillRect(1512, 19, 52, 13); ctx.strokeRect(1512, 19, 52, 13);
    ctx.fillStyle = '#ffffff';
    ctx.fillRect(1665, 19, 52, 13); ctx.strokeRect(1665, 19, 52, 13);
    ctx.fillStyle = INK;
    ctx.font = '26px ' + FONT;
    ctx.textAlign = 'left';
    ctx.textBaseline = 'middle';
    ctx.fillText('Wild', 1573, 26);
    ctx.fillText('Cultivated', 1724, 26);
  }
  ctx.restore();
}

function placeMarks(chart, groups) {
  const xs = chart.scales.x;
  groups.forEach(g => {
    const ys = chart.scales[g.axis];
    const cx = xs.getPixelForValue(g.dotX);
    const pys = g.vals.map(v => ys.getPixelForValue(v));
    const offs = swarm(pys, 30, g.kind === 'wild' ? 15 : 9.5);
    g.dots.data = g.vals.map((v, k) => ({ x: xs.getValueForPixel(cx + offs[k]), y: v }));
    const n = g.vals.length;
    const m = g.vals.reduce((a, b) => a + b, 0) / n;
    const sd = Math.sqrt(g.vals.reduce((a, b) => a + (b - m) * (b - m), 0) / (n - 1));
    const [lo, hi] = (g.kind === 'wild' ? wildCurve : cultCurve)[g.i];
    const pts = [];
    for (let k = 0; k <= 90; k++) {
      const v = lo + (hi - lo) * k / 90;
      const w = CURVE_PEAK * Math.exp(-0.5 * Math.pow((v - m) / sd, 2));
      pts.push({ x: xs.getValueForPixel(cx + w), y: v });
    }
    g.curve.data = pts;
  });
  chart.update('none');
}

function buildRow(r) {
  const groups = [];
  const datasets = [];
  traits.forEach((name, i) => {
    if (traitRow[i] !== r) return;
    ['wild', 'cult'].forEach(kind => {
      const wild = kind === 'wild';
      const vals = wild ? wildDots[i] : cultDots[i];
      const axis = traitAxis[i] === 'L' ? 'yL' : 'yR';
      const boxX = traitCol[i] + (wild ? WILD_OFF : CULT_OFF);
      const dotX = boxX + DOT_SHIFT;
      const dots = {
        type: 'scatter', label: name + (wild ? ' (Wild)' : ' (Cultivated)'), yAxisID: axis, order: 1,
        data: vals.map(v => ({ x: dotX, y: v })),
        pointRadius: 5, pointHoverRadius: 5,
        pointBackgroundColor: wild ? WILD_DOT : '#ffffff',
        pointBorderColor: INK,
        pointBorderWidth: wild ? 1.5 : 2
      };
      const curve = {
        type: 'scatter', showLine: true, label: name + ' curve', yAxisID: axis, order: 0,
        data: [], borderColor: INK, borderWidth: 2, pointRadius: 0, pointHoverRadius: 0, fill: false
      };
      datasets.push(dots, curve);
      groups.push({ i, kind, axis, vals, boxX, dotX, dots, curve });
    });
  });
  const chart = new Chart(document.getElementById('row' + r), {
    type: 'scatter',
    data: { datasets },
    options: {
      responsive: false,
      animation: false,
      devicePixelRatio: 1,
      events: [],
      layout: { padding: 0 },
      plugins: { legend: { display: false }, tooltip: { enabled: false } },
      scales: {
        x: { type: 'linear', min: X_MIN, max: X_MAX, display: false },
        yL: yScale('left', r),
        yR: yScale('right', r)
      }
    },
    plugins: [{
      id: 'floral' + r,
      beforeDatasetsDraw: c => drawPinks(c, groups),
      afterDatasetsDraw: c => drawBoxes(c, groups, r),
      afterDraw: c => drawFrame(c, r)
    }]
  });
  placeMarks(chart, groups);
  return chart;
}

[0, 1, 2, 3].forEach(buildRow);
</script>
</body>
</html>
